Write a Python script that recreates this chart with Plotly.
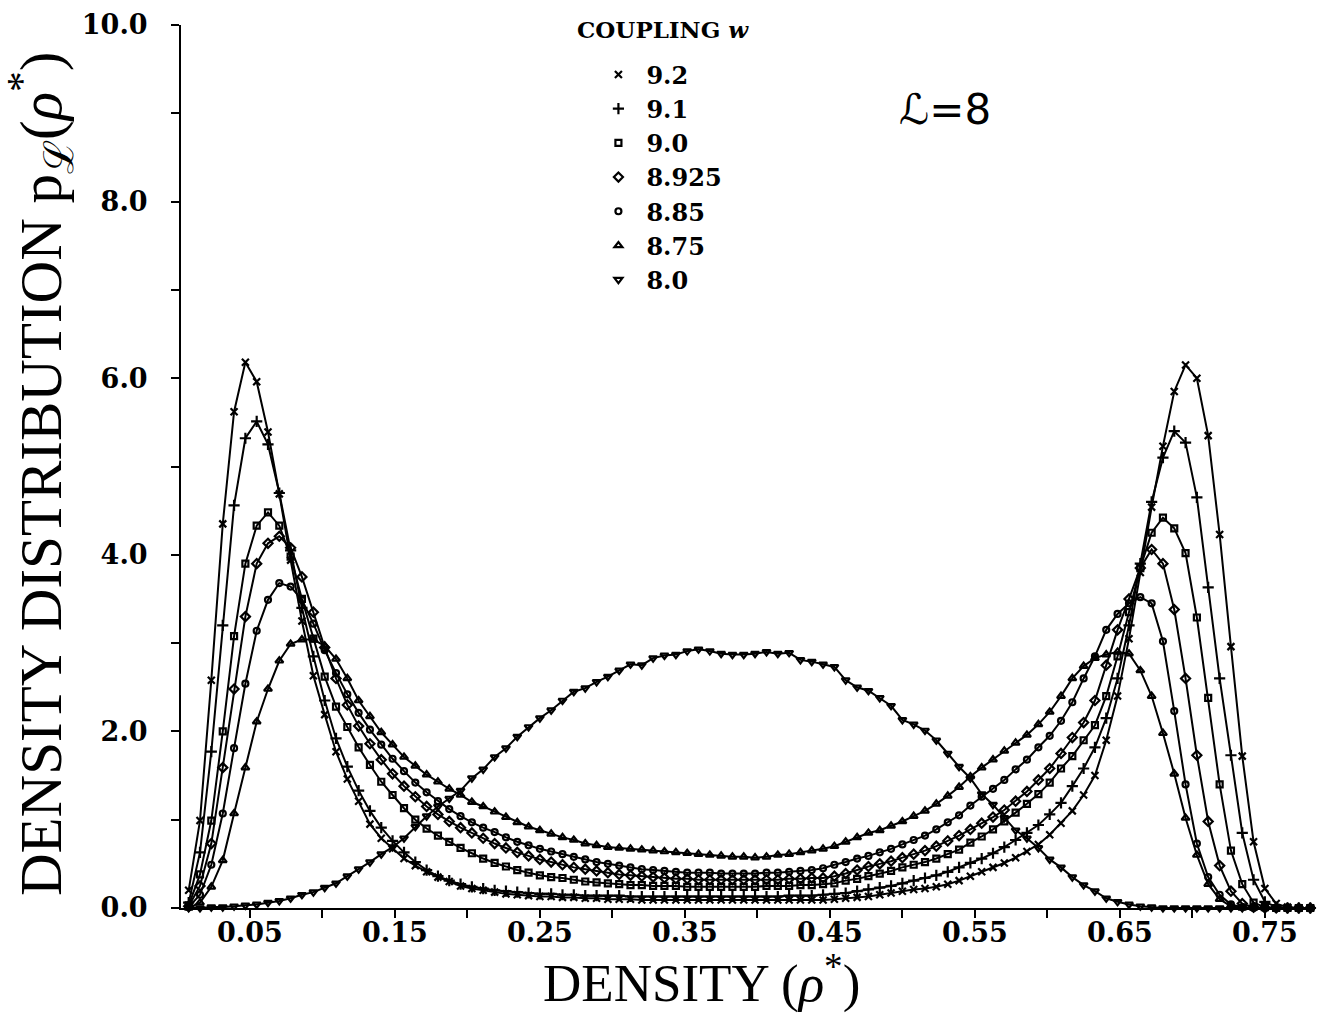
import plotly.graph_objects as go

# density grid (bin centres, spacing ~0.0078)
RHO = [0.0078, 0.0156, 0.0234, 0.0313, 0.0391, 0.0469, 0.0547, 0.0625, 0.0703, 0.0781,
       0.0859, 0.0938, 0.1016, 0.1094, 0.1172, 0.125, 0.1328, 0.1406, 0.1484, 0.1563,
       0.1641, 0.1719, 0.1797, 0.1875, 0.1953, 0.2031, 0.2109, 0.2188, 0.2266, 0.2344,
       0.2422, 0.25, 0.2578, 0.2656, 0.2734, 0.2813, 0.2891, 0.2969, 0.3047, 0.3125,
       0.3203, 0.3281, 0.3359, 0.3438, 0.3516, 0.3594, 0.3672, 0.375, 0.3828, 0.3906,
       0.3984, 0.4063, 0.4141, 0.4219, 0.4297, 0.4375, 0.4453, 0.4531, 0.4609, 0.4688,
       0.4766, 0.4844, 0.4922, 0.5, 0.5078, 0.5156, 0.5234, 0.5313, 0.5391, 0.5469,
       0.5547, 0.5625, 0.5703, 0.5781, 0.5859, 0.5938, 0.6016, 0.6094, 0.6172, 0.625,
       0.6328, 0.6406, 0.6484, 0.6563, 0.6641, 0.6719, 0.6797, 0.6875, 0.6953, 0.7031,
       0.7109, 0.7188, 0.7266, 0.7344, 0.7422, 0.75, 0.7578, 0.7656, 0.7734, 0.7813]

P_92 = [0.20, 0.99, 2.58, 4.35, 5.62, 6.18, 5.96, 5.39, 4.69, 3.94,
        3.25, 2.63, 2.19, 1.77, 1.46, 1.21, 0.95, 0.79, 0.67, 0.56,
        0.48, 0.41, 0.35, 0.30, 0.25, 0.22, 0.20, 0.18, 0.16, 0.15,
        0.14, 0.13, 0.13, 0.12, 0.12, 0.11, 0.11, 0.10, 0.10, 0.10,
        0.09, 0.09, 0.09, 0.09, 0.09, 0.09, 0.09, 0.09, 0.09, 0.09,
        0.09, 0.09, 0.09, 0.09, 0.09, 0.09, 0.09, 0.10, 0.11, 0.12,
        0.13, 0.15, 0.17, 0.19, 0.21, 0.22, 0.24, 0.27, 0.31, 0.36,
        0.41, 0.46, 0.51, 0.57, 0.64, 0.72, 0.83, 0.96, 1.10, 1.28,
        1.50, 1.90, 2.40, 3.05, 3.80, 4.54, 5.23, 5.85, 6.15, 6.00,
        5.35, 4.23, 2.96, 1.72, 0.75, 0.22, 0.05, 0.01, 0.00, 0.00]

P_91 = [0.06, 0.63, 1.77, 3.20, 4.56, 5.32, 5.51, 5.25, 4.70, 4.05,
        3.40, 2.85, 2.35, 1.92, 1.60, 1.33, 1.10, 0.91, 0.76, 0.63,
        0.52, 0.43, 0.36, 0.31, 0.27, 0.24, 0.22, 0.20, 0.19, 0.18,
        0.17, 0.16, 0.16, 0.15, 0.15, 0.14, 0.14, 0.14, 0.14, 0.13,
        0.13, 0.13, 0.13, 0.13, 0.13, 0.13, 0.13, 0.13, 0.13, 0.13,
        0.13, 0.13, 0.13, 0.14, 0.14, 0.14, 0.15, 0.16, 0.17, 0.19,
        0.21, 0.23, 0.25, 0.28, 0.31, 0.34, 0.37, 0.41, 0.46, 0.51,
        0.56, 0.62, 0.69, 0.77, 0.85, 0.94, 1.06, 1.19, 1.38, 1.58,
        1.82, 2.15, 2.60, 3.20, 3.90, 4.60, 5.10, 5.40, 5.27, 4.65,
        3.63, 2.60, 1.73, 0.85, 0.32, 0.07, 0.01, 0.00, 0.00, 0.00]

P_90 = [0.03, 0.38, 0.99, 2.00, 3.08, 3.90, 4.33, 4.48, 4.33, 3.98,
        3.50, 3.05, 2.62, 2.28, 2.05, 1.82, 1.62, 1.43, 1.28, 1.13,
        1.00, 0.90, 0.82, 0.75, 0.68, 0.62, 0.56, 0.51, 0.47, 0.43,
        0.40, 0.37, 0.35, 0.34, 0.32, 0.30, 0.29, 0.28, 0.27, 0.26,
        0.26, 0.25, 0.25, 0.25, 0.24, 0.24, 0.24, 0.24, 0.24, 0.24,
        0.24, 0.25, 0.25, 0.25, 0.26, 0.26, 0.27, 0.28, 0.31, 0.33,
        0.36, 0.39, 0.42, 0.46, 0.49, 0.52, 0.56, 0.61, 0.66, 0.74,
        0.81, 0.89, 0.98, 1.08, 1.18, 1.29, 1.42, 1.58, 1.72, 1.90,
        2.07, 2.40, 2.85, 3.35, 3.85, 4.25, 4.42, 4.30, 4.02, 3.29,
        2.38, 1.40, 0.65, 0.27, 0.06, 0.01, 0.00, 0.00, 0.00, 0.00]

P_8925 = [0.02, 0.25, 0.73, 1.59, 2.48, 3.30, 3.90, 4.13, 4.21, 4.08,
          3.75, 3.35, 2.95, 2.60, 2.30, 2.06, 1.86, 1.68, 1.52, 1.38,
          1.26, 1.15, 1.06, 0.98, 0.91, 0.85, 0.79, 0.73, 0.68, 0.63,
          0.59, 0.55, 0.52, 0.49, 0.46, 0.44, 0.42, 0.40, 0.38, 0.37,
          0.36, 0.35, 0.34, 0.33, 0.33, 0.32, 0.32, 0.32, 0.32, 0.32,
          0.32, 0.32, 0.32, 0.33, 0.33, 0.34, 0.34, 0.36, 0.39, 0.43,
          0.47, 0.50, 0.53, 0.57, 0.61, 0.65, 0.70, 0.76, 0.82, 0.89,
          0.96, 1.03, 1.11, 1.21, 1.32, 1.45, 1.58, 1.75, 1.93, 2.10,
          2.35, 2.75, 3.15, 3.50, 3.85, 4.06, 3.90, 3.38, 2.60, 1.73,
          0.98, 0.48, 0.19, 0.05, 0.01, 0.00, 0.00, 0.00, 0.00, 0.00]

P_885 = [0.01, 0.15, 0.49, 1.07, 1.81, 2.54, 3.14, 3.49, 3.68, 3.64,
         3.49, 3.22, 2.92, 2.66, 2.42, 2.21, 2.02, 1.85, 1.69, 1.55,
         1.42, 1.31, 1.21, 1.12, 1.04, 0.97, 0.91, 0.86, 0.80, 0.75,
         0.71, 0.67, 0.64, 0.61, 0.58, 0.55, 0.52, 0.50, 0.48, 0.46,
         0.44, 0.43, 0.42, 0.41, 0.40, 0.40, 0.40, 0.39, 0.39, 0.39,
         0.39, 0.40, 0.40, 0.41, 0.42, 0.43, 0.45, 0.49, 0.52, 0.56,
         0.59, 0.63, 0.67, 0.72, 0.77, 0.82, 0.89, 0.97, 1.05, 1.16,
         1.26, 1.35, 1.45, 1.57, 1.68, 1.82, 1.95, 2.12, 2.33, 2.60,
         2.85, 3.15, 3.33, 3.45, 3.52, 3.45, 3.02, 2.23, 1.40, 0.73,
         0.35, 0.15, 0.04, 0.01, 0.00, 0.00, 0.00, 0.00, 0.00, 0.00]

P_875 = [0.00, 0.06, 0.24, 0.54, 1.07, 1.59, 2.11, 2.48, 2.80, 2.99,
         3.04, 3.04, 2.97, 2.82, 2.60, 2.35, 2.17, 1.99, 1.85, 1.71,
         1.61, 1.51, 1.43, 1.35, 1.28, 1.20, 1.15, 1.09, 1.03, 0.97,
         0.92, 0.88, 0.84, 0.80, 0.77, 0.73, 0.71, 0.69, 0.68, 0.67,
         0.66, 0.65, 0.64, 0.63, 0.62, 0.61, 0.60, 0.59, 0.58, 0.58,
         0.57, 0.58, 0.60, 0.61, 0.63, 0.65, 0.67, 0.70, 0.75, 0.80,
         0.85, 0.88, 0.93, 0.98, 1.04, 1.10, 1.18, 1.27, 1.37, 1.49,
         1.59, 1.68, 1.78, 1.87, 1.96, 2.08, 2.22, 2.40, 2.60, 2.74,
         2.83, 2.87, 2.90, 2.88, 2.69, 2.40, 1.98, 1.52, 1.02, 0.60,
         0.27, 0.10, 0.02, 0.00, 0.00, 0.00, 0.00, 0.00, 0.00, 0.00]

P_80 = [0.00, 0.00, 0.01, 0.01, 0.02, 0.03, 0.04, 0.06, 0.08, 0.11,
        0.15, 0.18, 0.23, 0.28, 0.36, 0.44, 0.52, 0.61, 0.69, 0.79,
        0.92, 1.04, 1.15, 1.24, 1.33, 1.47, 1.57, 1.71, 1.81, 1.94,
        2.05, 2.15, 2.24, 2.35, 2.45, 2.49, 2.56, 2.62, 2.69, 2.76,
        2.75, 2.83, 2.86, 2.87, 2.91, 2.93, 2.91, 2.88, 2.87, 2.87,
        2.88, 2.90, 2.88, 2.89, 2.81, 2.79, 2.76, 2.73, 2.58, 2.50,
        2.46, 2.38, 2.29, 2.13, 2.08, 2.01, 1.90, 1.75, 1.60, 1.47,
        1.29, 1.17, 1.02, 0.88, 0.79, 0.68, 0.55, 0.46, 0.35, 0.26,
        0.19, 0.11, 0.07, 0.04, 0.02, 0.01, 0.00, 0.00, 0.00, 0.00,
        0.00, 0.00, 0.00, 0.00, 0.00, 0.00, 0.00, 0.00, 0.00, 0.00]

COUPLINGS = ["9.2", "9.1", "9.0", "8.925", "8.85", "8.75", "8.0"]
SERIES = [P_92, P_91, P_90, P_8925, P_885, P_875, P_80]
SYMBOLS = ["x-thin", "cross-thin", "square-open", "diamond-open",
           "circle-open", "triangle-up-open", "triangle-down-open"]
SIZES = [7, 8, 6, 7, 6, 7, 7]

Y_TICKS = [0, 1, 2, 3, 4, 5, 6, 7, 8, 9, 10]
Y_TICKTEXT = ["0.0", "", "2.0", "", "4.0", "", "6.0", "", "8.0", "", "10.0"]
X_TICKS = [0.05, 0.10, 0.15, 0.20, 0.25, 0.30, 0.35, 0.40, 0.45, 0.50,
           0.55, 0.60, 0.65, 0.70, 0.75]
X_TICKTEXT = ["0.05", "", "0.15", "", "0.25", "", "0.35", "", "0.45", "",
              "0.55", "", "0.65", "", "0.75"]

BOLDSERIF = "DejaVu Serif"
SERIF = "Liberation Serif"

fig = go.Figure()
for name, ys, sym, sz in zip(COUPLINGS, SERIES, SYMBOLS, SIZES):
    fig.add_trace(go.Scatter(
        x=RHO, y=ys, mode="lines+markers", name=name, showlegend=False,
        cliponaxis=False,
        line=dict(color="black", width=2),
        marker=dict(symbol=sym, size=sz, color="black",
                    line=dict(color="black", width=2.2)),
    ))
# legend entries (marker only)
for name, sym, sz in zip(COUPLINGS, SYMBOLS, SIZES):
    fig.add_trace(go.Scatter(
        x=[None], y=[None], mode="markers", name=name, showlegend=True,
        marker=dict(symbol=sym, size=sz, color="black",
                    line=dict(color="black", width=2.2)),
    ))

ELL = '<span style="font-family:DejaVu Serif;color:black">ℒ</span>'

fig.update_layout(
    width=1321, height=1018,
    margin=dict(l=181, r=9, t=16, b=110),
    paper_bgcolor="white", plot_bgcolor="white",
    showlegend=True,
    legend=dict(x=0.362, y=0.969, xanchor="left", yanchor="top",
                bgcolor="rgba(0,0,0,0)", borderwidth=0, itemwidth=46,
                font=dict(family=BOLDSERIF, size=24, color="black", weight="bold")),
    xaxis=dict(range=[0.0025, 0.7825], showgrid=False, zeroline=False,
               showline=True, linecolor="black", linewidth=2,
               ticks="outside", ticklen=8, tickwidth=2, tickcolor="black",
               tickvals=X_TICKS, ticktext=X_TICKTEXT, ticklabelstandoff=-8,
               tickfont=dict(family=BOLDSERIF, size=27, color="black", weight="bold")),
    yaxis=dict(range=[0, 10], showgrid=False, zeroline=False,
               showline=True, linecolor="black", linewidth=2,
               ticks="outside", ticklen=8, tickwidth=2, tickcolor="black",
               tickvals=Y_TICKS, ticktext=Y_TICKTEXT, ticklabelstandoff=18,
               tickfont=dict(family=BOLDSERIF, size=27, color="black", weight="bold")),
    annotations=[
        dict(text="DENSITY (<i>ρ</i><sup>*</sup>)", x=0.460, y=-0.0815,
             xref="paper", yref="paper", xanchor="center", yanchor="middle",
             showarrow=False, font=dict(family=SERIF, size=53, color="black")),
        dict(text="DENSITY DISTRIBUTION p<sub>" + ELL + "</sub>(<i>ρ</i><sup>*</sup>)",
             x=-0.1238, y=0.4914, xref="paper", yref="paper", textangle=-90,
             xanchor="center", yanchor="middle", showarrow=False,
             font=dict(family=SERIF, size=59, color="black")),
        dict(text="ℒ=8", x=0.6755, y=0.904, xref="paper", yref="paper",
             xanchor="center", yanchor="middle", showarrow=False,
             font=dict(family="DejaVu Sans", size=42, color="black")),
        dict(text="COUPLING <i>w</i>", x=(575 - 181) / 1131, y=(908.3 - 21) / 892,
             xref="paper", yref="paper", xanchor="left", yanchor="middle",
             showarrow=False,
             font=dict(family=BOLDSERIF, size=23, color="black", weight="bold")),
    ],
)

fig.write_html("out.html")
